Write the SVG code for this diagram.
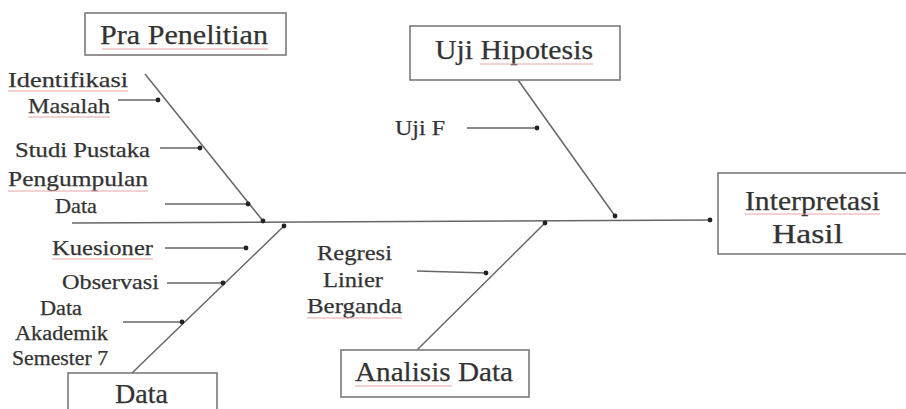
<svg xmlns="http://www.w3.org/2000/svg" width="906" height="409" viewBox="0 0 906 409">
<defs>
<marker id="dot" viewBox="0 0 6 6" refX="3" refY="3" markerWidth="6" markerHeight="6" markerUnits="userSpaceOnUse">
<circle cx="3" cy="3" r="2.4" fill="#222"/>
</marker>
<style>
.t{font-family:"Liberation Serif","Times New Roman",serif;fill:#333;stroke:#333;stroke-width:0.25;}
.big{font-size:28px;}
.sm{font-size:22px;}
.md{font-size:21px;}
.xs{font-size:20px;}
.box{fill:#fff;stroke:#7a7a7a;stroke-width:1.6;}
.ln{stroke:#666;stroke-width:1.5;fill:none;}
.ar{stroke:#666;stroke-width:1.4;fill:none;marker-end:url(#dot);}
.sq{stroke:#e8a4a4;stroke-width:1;fill:none;}
</style>
</defs>
<rect width="906" height="409" fill="#fff"/>

<g id="connectors">
<line class="ln" x1="72" y1="223" x2="710" y2="220" marker-end="url(#dot)"/>
<line class="ln" x1="145" y1="74" x2="263" y2="221" marker-end="url(#dot)"/>
<line class="ln" x1="132" y1="373" x2="284" y2="226" marker-end="url(#dot)"/>
<line class="ln" x1="518" y1="80" x2="615" y2="216" marker-end="url(#dot)"/>
<line class="ln" x1="417" y1="350" x2="545" y2="223" marker-end="url(#dot)"/>
<line class="ar" x1="118" y1="100" x2="158" y2="100"/>
<line class="ar" x1="160" y1="148" x2="200" y2="148"/>
<line class="ar" x1="165" y1="204" x2="248" y2="204"/>
<line class="ar" x1="165" y1="248" x2="246" y2="248"/>
<line class="ar" x1="167" y1="283" x2="223" y2="283"/>
<line class="ar" x1="123" y1="322" x2="182" y2="322"/>
<line class="ar" x1="467" y1="128" x2="537" y2="128"/>
<line class="ar" x1="417" y1="271" x2="486" y2="273"/>
</g>

<g id="pra-penelitian">
<rect class="box" x="85" y="13" width="201" height="42"/>
<text class="t big" x="100" y="44" textLength="168" lengthAdjust="spacingAndGlyphs">Pra Penelitian</text>
<line class="sq" x1="102" y1="49" x2="268" y2="49"/>
</g>

<g id="uji-hipotesis">
<rect class="box" x="410" y="26" width="210" height="54"/>
<text class="t big" x="435" y="59" textLength="158" lengthAdjust="spacingAndGlyphs">Uji Hipotesis</text>
<line class="sq" x1="480" y1="64" x2="593" y2="64"/>
</g>

<g id="interpretasi-hasil">
<rect class="box" x="718" y="173" width="200" height="81"/>
<text class="t big" x="745" y="210" textLength="135" lengthAdjust="spacingAndGlyphs">Interpretasi</text>
<text class="t big" x="772" y="243" textLength="71" lengthAdjust="spacingAndGlyphs">Hasil</text>
<line class="sq" x1="745" y1="214" x2="880" y2="214"/>
</g>

<g id="data">
<rect class="box" x="68" y="373" width="149" height="50"/>
<text class="t big" x="115" y="403" textLength="53" lengthAdjust="spacingAndGlyphs">Data</text>
</g>

<g id="analisis-data">
<rect class="box" x="341" y="350" width="188" height="47"/>
<text class="t big" x="355" y="381" textLength="158" lengthAdjust="spacingAndGlyphs">Analisis Data</text>
<line class="sq" x1="355" y1="386" x2="452" y2="386"/>
</g>

<g id="identifikasi-masalah">
<text class="t sm" x="8" y="87" textLength="120" lengthAdjust="spacingAndGlyphs">Identifikasi</text>
<text class="t sm" x="28" y="113" textLength="82" lengthAdjust="spacingAndGlyphs">Masalah</text>
<line class="sq" x1="8" y1="91" x2="128" y2="91"/>
<line class="sq" x1="28" y1="117" x2="110" y2="117"/>
</g>

<g id="studi-pustaka">
<text class="t sm" x="15" y="157" textLength="135" lengthAdjust="spacingAndGlyphs">Studi Pustaka</text>
</g>

<g id="pengumpulan-data">
<text class="t sm" x="8" y="186" textLength="140" lengthAdjust="spacingAndGlyphs">Pengumpulan</text>
<text class="t sm" x="55" y="213" textLength="42" lengthAdjust="spacingAndGlyphs">Data</text>
<line class="sq" x1="8" y1="191" x2="148" y2="191"/>
</g>

<g id="kuesioner">
<text class="t md" x="52" y="255" textLength="101" lengthAdjust="spacingAndGlyphs">Kuesioner</text>
<line class="sq" x1="52" y1="259" x2="153" y2="259"/>
</g>

<g id="observasi">
<text class="t md" x="62" y="289" textLength="97" lengthAdjust="spacingAndGlyphs">Observasi</text>
</g>

<g id="data-akademik">
<text class="t xs" x="40" y="315" textLength="42" lengthAdjust="spacingAndGlyphs">Data</text>
<text class="t xs" x="15" y="340" textLength="93" lengthAdjust="spacingAndGlyphs">Akademik</text>
<text class="t xs" x="12" y="365" textLength="96" lengthAdjust="spacingAndGlyphs">Semester 7</text>
</g>

<g id="uji-f">
<text class="t md" x="395" y="135" textLength="50" lengthAdjust="spacingAndGlyphs">Uji F</text>
</g>

<g id="regresi">
<text class="t md" x="317" y="260" textLength="75" lengthAdjust="spacingAndGlyphs">Regresi</text>
<text class="t md" x="323" y="287" textLength="60" lengthAdjust="spacingAndGlyphs">Linier</text>
<text class="t md" x="307" y="313" textLength="95" lengthAdjust="spacingAndGlyphs">Berganda</text>
<line class="sq" x1="307" y1="318" x2="402" y2="318"/>
</g>
</svg>
